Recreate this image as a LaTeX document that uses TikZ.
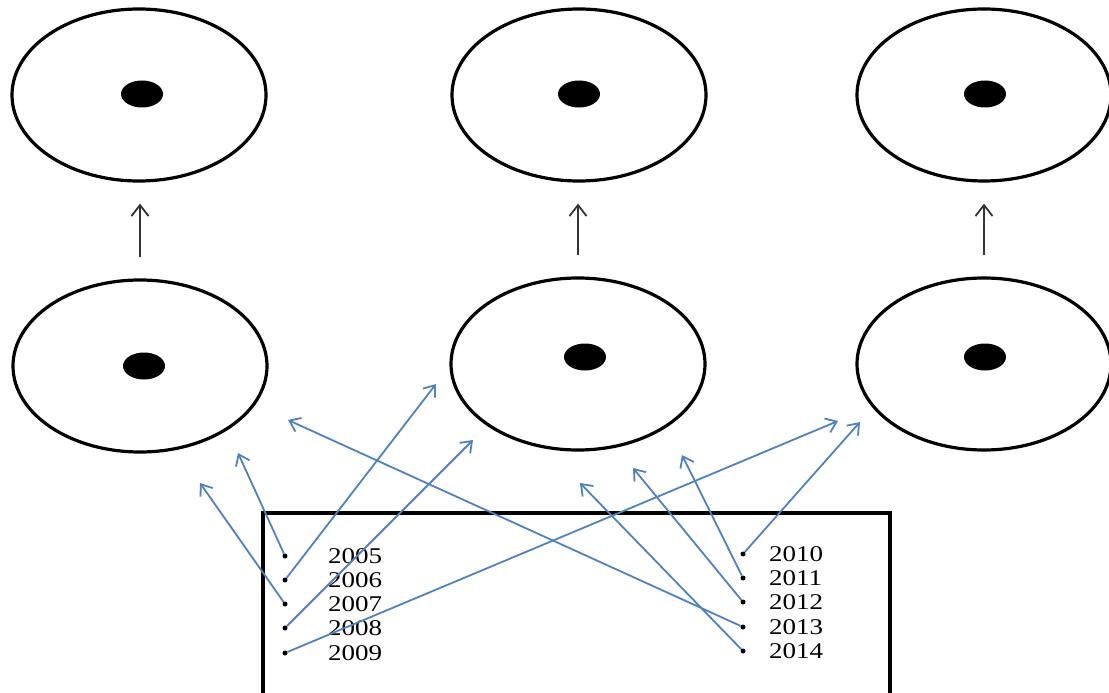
\documentclass[tikz,border=0pt]{standalone}
\usepackage{fontspec}
\setmainfont{Liberation Serif}
\usetikzlibrary{shapes.geometric,arrows.meta}
\definecolor{linkblue}{RGB}{79,129,189}

\begin{document}
\begin{tikzpicture}[x=1pt,y=-1pt,
  ring/.style={draw,ellipse,line width=3.2pt,minimum width=254pt,minimum height=172pt,inner sep=0pt},
  core/.style={fill,ellipse,minimum width=42pt,minimum height=27pt,inner sep=0pt},
  bullet/.style={fill,circle,inner sep=0pt,minimum size=5pt},
  year/.style={anchor=west,inner sep=0pt,font=\fontsize{22.5}{24}\selectfont,xscale=1.2},
  link/.style={draw=linkblue,line width=1.8pt,-{Straight Barb[length=10pt,width=15pt]}},
  rise/.style={draw=black!80,line width=1.8pt,-{Straight Barb[length=11pt,width=17pt]},shorten <=21pt,shorten >=21pt}]
\useasboundingbox (0,0) rectangle (1109,693);
\clip (0,0) rectangle (1109,693);
% The rings
\node[ring] (ringTL) at (139,95) {};
\node[ring] (ringTM) at (579,95) {};
\node[ring] (ringTR) at (984,95) {};
\node[ring] (ringBL) at (140,366) {};
\node[ring] (ringBM) at (578,364) {};
\node[ring] (ringBR) at (984,364) {};
% The cores
\node[core] (coreTL) at (142,94) {};
\node[core] (coreTM) at (579,94) {};
\node[core] (coreTR) at (985,94) {};
\node[core] (coreBL) at (144,366) {};
\node[core] (coreBM) at (585,357) {};
\node[core] (coreBR) at (985,357) {};
% The upward arrows
\draw[rise] (ringBL.north) -- (ringBL.north |- ringTL.south);
\draw[rise] (ringBM.north) -- (ringBM.north |- ringTM.south);
\draw[rise] (ringBR.north) -- (ringBR.north |- ringTR.south);

% The box with the years
\node[draw,line width=3.6pt,outer sep=0pt,anchor=north west,
  minimum width=627pt,minimum height=220pt] (yearbox) at (263,513) {};
\foreach \yr/\yy in {2005/556,2006/580,2007/604,2008/628,2009/653}
{
  \node[bullet] (b\yr) at (285,\yy) {};
  \node[year] (y\yr) at (328,\yy) {\yr};
}
\foreach \yr/\yy in {2010/554,2011/578,2012/602,2013/627,2014/651}
{
  \node[bullet] (b\yr) at (743,\yy) {};
  \node[year] (y\yr) at (769,\yy) {\yr};
}

% Tips of the blue arrows
\coordinate (t2005) at (238,453);
\coordinate (t2006) at (436,384);
\coordinate (t2007) at (200,483);
\coordinate (t2008) at (473,440);
\coordinate (t2009) at (838,421);
\coordinate (t2010) at (860,422);
\coordinate (t2011) at (682,455);
\coordinate (t2012) at (633,468);
\coordinate (t2013) at (288,420);
\coordinate (t2014) at (580,483);
% The blue arrows
\foreach \yr in {2005,2006,...,2014}
  \draw[link] (b\yr) -- (t\yr);

\end{tikzpicture}
\end{document}
